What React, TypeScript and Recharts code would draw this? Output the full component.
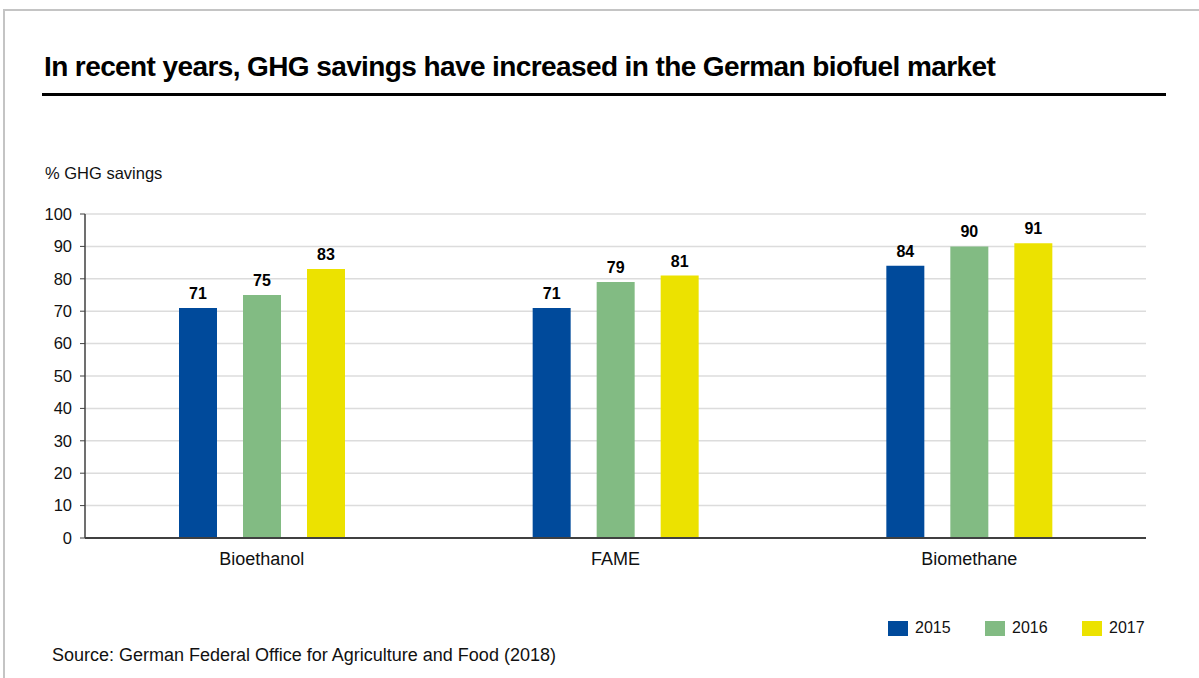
import React from "react";
import { BarChart, Bar, XAxis, YAxis, CartesianGrid, LabelList } from "recharts";

const categories = ["Bioethanol", "FAME", "Biomethane"];
const years = ["2015", "2016", "2017"];
const values2015 = [71, 71, 84];
const values2016 = [75, 79, 90];
const values2017 = [83, 81, 91];
const yTicks = [0, 10, 20, 30, 40, 50, 60, 70, 80, 90, 100];

const colors = ["#004a9b", "#82bb83", "#ece200"];

const data = categories.map((name, i) => ({
  name,
  y2015: values2015[i],
  y2016: values2016[i],
  y2017: values2017[i],
}));

const FONT = "'Liberation Sans', Arial, sans-serif";

export default function App() {
  return (
    <div
      style={{
        position: "absolute",
        left: 0,
        top: 0,
        width: 1199,
        height: 678,
        background: "#fff",
        fontFamily: FONT,
        overflow: "hidden",
      }}
    >
      {/* frame */}
      <div
        style={{
          position: "absolute",
          left: 3,
          top: 9,
          width: 1199,
          height: 700,
          borderLeft: "2px solid #c4c4c4",
          borderTop: "2px solid #c4c4c4",
        }}
      />

      <div
        style={{
          position: "absolute",
          left: 44,
          top: 51,
          fontSize: 28,
          lineHeight: "normal",
          fontWeight: "bold",
          color: "#000",
          letterSpacing: -0.6,
          whiteSpace: "nowrap",
        }}
      >
        In recent years, GHG savings have increased in the German biofuel market
      </div>
      <div
        style={{
          position: "absolute",
          left: 42,
          top: 93,
          width: 1124,
          height: 3,
          background: "#000",
        }}
      />

      <div
        style={{
          position: "absolute",
          left: 45,
          top: 164,
          fontSize: 16.5,
          color: "#111",
        }}
      >
        % GHG savings
      </div>

      <div style={{ position: "absolute", left: 0, top: 0 }}>
        <BarChart
          width={1199}
          height={678}
          data={data}
          margin={{ top: 214, right: 53, left: 0, bottom: 110 }}
          barCategoryGap={94}
          barGap={26}
        >
          <CartesianGrid vertical={false} stroke="#dcdcdc" strokeWidth={1.5} />
          <XAxis
            dataKey="name"
            height={30}
            tickLine={false}
            axisLine={{ stroke: "#404040", strokeWidth: 2 }}
            tick={{ fill: "#111", fontSize: 18, fontFamily: FONT }}
            tickMargin={8}
          />
          <YAxis
            width={85}
            domain={[0, 100]}
            ticks={yTicks}
            interval={0}
            tickSize={5}
            tickMargin={8}
            axisLine={{ stroke: "#404040", strokeWidth: 1.5 }}
            tickLine={{ stroke: "#404040" }}
            tick={{ fill: "#111", fontSize: 16.5, fontFamily: FONT }}
          />
          {years.map((y, i) => (
            <Bar
              key={y}
              dataKey={`y${y}`}
              fill={colors[i]}
              isAnimationActive={false}
            >
              <LabelList
                dataKey={`y${y}`}
                position="top"
                offset={9}
                style={{ fill: "#000", fontSize: 16, fontWeight: "bold", fontFamily: FONT }}
              />
            </Bar>
          ))}
        </BarChart>
      </div>

      {/* legend */}
      <div
        style={{
          position: "absolute",
          left: 888,
          top: 619,
          display: "flex",
          fontSize: 16,
          color: "#111",
        }}
      >
        {years.map((y, i) => (
          <div key={y} style={{ display: "flex", alignItems: "center", width: 97 }}>
            <span
              style={{
                display: "inline-block",
                width: 20,
                height: 15,
                background: colors[i],
                marginRight: 7,
              }}
            />
            {y}
          </div>
        ))}
      </div>

      <div
        style={{
          position: "absolute",
          left: 52,
          top: 645,
          fontSize: 18,
          lineHeight: "normal",
          color: "#111",
        }}
      >
        Source: German Federal Office for Agriculture and Food (2018)
      </div>
    </div>
  );
}
